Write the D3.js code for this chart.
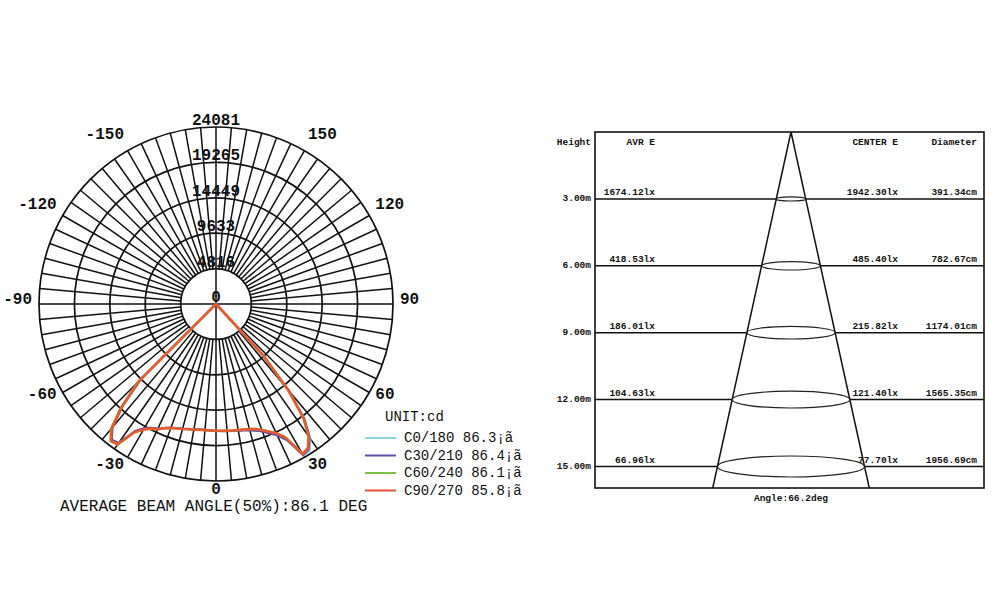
<!DOCTYPE html>
<html>
<head>
<meta charset="utf-8">
<script src="https://cdn.jsdelivr.net/npm/d3@7"></script>
<style>
  body { margin: 0; background: #fff; }
  svg { display: block; }
  text { font-family: "Liberation Mono", "DejaVu Sans Mono", monospace; fill: #111; }
</style>
</head>
<body>
<div id="chart"></div>
<script>
// gamma angles (deg) and intensity per C-plane (cd)
const gammaAngles = [-47.5, -45, -42.5, -40, -37.5, -35, -32.5, -30, -27.5, -25, -22.5, -20, -17.5, -15, -12.5, -10, -7.5, -5, -2.5,
  0, 2.5, 5, 7.5, 10, 12.5, 15, 17.5, 20, 22.5, 25, 27.5, 30, 32.5, 35, 37.5, 40, 42.5, 45];
const c0Values = [0, 14600, 18900, 22000, 23400, 23200, 20600, 19600, 19100, 18750, 18300, 17950, 17750, 17600, 17450, 17350, 17250, 17220, 17230,
  17250, 17280, 17320, 17380, 17450, 17560, 17700, 17950, 18350, 18900, 19550, 20700, 23800, 23650, 22400, 19900, 15600, 9800, 0];
const c30Values = [0, 14500, 18800, 21900, 23300, 23100, 20500, 19500, 19000, 18700, 18250, 17900, 17700, 17550, 17400, 17300, 17200, 17200, 17220,
  17250, 17300, 17360, 17420, 17500, 17620, 17800, 18080, 18450, 19050, 19700, 20850, 23700, 23450, 22200, 19700, 15400, 9600, 0];
const c60Values = [0, 15200, 19300, 22300, 23550, 23350, 20750, 19750, 19150, 18800, 18300, 17950, 17750, 17600, 17450, 17350, 17260, 17230, 17230,
  17240, 17260, 17290, 17330, 17380, 17480, 17600, 17820, 18200, 18750, 19350, 20450, 23500, 23200, 21900, 19500, 15200, 9400, 0];
const c90Values = [0, 14700, 19000, 22100, 23500, 23300, 20700, 19700, 19100, 18800, 18300, 17950, 17750, 17600, 17450, 17350, 17250, 17220, 17220,
  17240, 17260, 17300, 17350, 17400, 17500, 17620, 17850, 18250, 18800, 19400, 20500, 23600, 23300, 22000, 19600, 15300, 9500, 0];
const seriesNames = ["C0/180", "C30/210", "C60/240", "C90/270"];
const seriesBeams = ["86.3", "86.4", "86.1", "85.8"];
const seriesColors = ["#8fd0e2", "#5b4fa6", "#7cc243", "#e4523a"];
const curveColor = "#e85a2e";
const ringTicks = [0, 4816, 9633, 14449, 19265, 24081];
const angleLabels = [0, 30, 60, 90, 120, 150, -150, -120, -90, -60, -30];
const averageBeam = "86.1";

// illuminance table
const heights = [3, 6, 9, 12, 15];
const avrE = [1674.12, 418.53, 186.01, 104.63, 66.96];
const centerE = [1942.30, 485.40, 215.82, 121.40, 77.70];
const diameters = [391.34, 782.67, 1174.01, 1565.35, 1956.69];
const coneAngle = 66.2;

var svg = d3.select("#chart")
    .append("svg")
    .attr("width", 1000)
    .attr("height", 616);

svg.append("rect").attr("width", 1000).attr("height", 616).attr("fill", "#fff");

drawPolar();
drawCone();

function drawPolar() {
  var cx = 216, cy = 304, R = 177;
  var r = d3.scaleLinear().domain([0, 24081]).range([0, R]);
  var g = svg.append("g").attr("transform", "translate(" + cx + "," + cy + ")");

  // spokes every 5 degrees, the main axes go through the centre
  for (var a = 0; a < 360; a += 5) {
    var rad = a * Math.PI / 180;
    var r0 = (a % 90 === 0) ? 0 : r(ringTicks[1]);
    g.append("line")
        .attr("x1", r0 * Math.sin(rad)).attr("y1", r0 * Math.cos(rad))
        .attr("x2", R * Math.sin(rad)).attr("y2", R * Math.cos(rad))
        .attr("stroke", "#111")
        .attr("stroke-width", 1.5);
  }

  // rings
  g.selectAll("circle.ring")
      .data(ringTicks.slice(1))
      .enter()
      .append("circle")
      .attr("r", d => r(d))
      .attr("fill", "none")
      .attr("stroke", "#111")
      .attr("stroke-width", 1.7);

  // ring labels
  g.selectAll("text.ring")
      .data(ringTicks)
      .enter()
      .append("text")
      .attr("x", 0)
      .attr("y", d => -r(d) - 2)
      .attr("text-anchor", "middle")
      .attr("font-size", 16)
      .attr("font-weight", "bold")
      .text(d => d);

  // angle labels
  g.selectAll("text.angle")
      .data(angleLabels)
      .enter()
      .append("text")
      .attr("x", d => 184 * Math.sin(d * Math.PI / 180))
      .attr("y", d => 190 * Math.cos(d * Math.PI / 180) - 4)
      .attr("dominant-baseline", "central")
      .attr("text-anchor", function(d) {
        var s = Math.sin(d * Math.PI / 180);
        return Math.abs(s) < 0.01 ? "middle" : (s > 0 ? "start" : "end");
      })
      .attr("font-size", 16)
      .attr("font-weight", "bold")
      .text(d => d);

  // intensity curves, C90 on top
  var line = d3.lineRadial()
      .angle(d => Math.PI - d[0] * Math.PI / 180)
      .radius(d => r(d[1]));
  var allValues = [c0Values, c30Values, c60Values, c90Values];
  allValues.forEach(function(values, i) {
    g.append("path")
        .datum(gammaAngles.map((ang, k) => [ang, values[k]]))
        .attr("d", line)
        .attr("fill", "none")
        .attr("stroke", i === 3 ? curveColor : seriesColors[i])
        .attr("stroke-width", i === 3 ? 2.6 : 2.2)
        .attr("stroke-linejoin", "round");
  });

  // legend
  svg.append("text")
      .attr("x", 385).attr("y", 417)
      .attr("dominant-baseline", "central")
      .attr("font-size", 14)
      .text("UNIT:cd");
  seriesNames.forEach(function(name, i) {
    var ly = 438 + i * 17.5;
    svg.append("line")
        .attr("x1", 365).attr("x2", 396)
        .attr("y1", ly).attr("y2", ly)
        .attr("stroke", seriesColors[i])
        .attr("stroke-width", 2);
    svg.append("text")
        .attr("x", 404).attr("y", ly)
        .attr("dominant-baseline", "central")
        .attr("font-size", 14)
        .text(name + " " + seriesBeams[i] + "¡ã");
  });

  svg.append("text")
      .attr("x", 60).attr("y", 511)
      .attr("font-size", 16)
      .text("AVERAGE BEAM ANGLE(50%):" + averageBeam + " DEG");
}

function drawCone() {
  var left = 595, right = 984, top = 132, bottom = 488, apexX = 791;
  var y = d3.scaleLinear().domain([0, 15]).range([top, 466.5]);
  // spot radius in cm to px (horizontal is compressed)
  var x = d3.scaleLinear().domain([0, 1000]).range([0, 75.2]);
  var half = Math.tan(coneAngle / 2 * Math.PI / 180);

  var g = svg.append("g");

  g.append("rect")
      .attr("x", left).attr("y", top)
      .attr("width", right - left).attr("height", bottom - top)
      .attr("fill", "none")
      .attr("stroke", "#111")
      .attr("stroke-width", 1.6);

  // cone sides
  var bottomR = x(half * y.invert(bottom) * 100);
  [-1, 1].forEach(function(s) {
    g.append("line")
        .attr("x1", apexX).attr("y1", top)
        .attr("x2", apexX + s * bottomR).attr("y2", bottom)
        .attr("stroke", "#111")
        .attr("stroke-width", 1.5);
  });

  heights.forEach(function(h, i) {
    var ly = y(h);
    var rx = x(diameters[i] / 2);
    g.append("line")
        .attr("x1", left).attr("x2", apexX - rx)
        .attr("y1", ly).attr("y2", ly)
        .attr("stroke", "#111").attr("stroke-width", 1.5);
    g.append("line")
        .attr("x1", apexX + rx).attr("x2", right)
        .attr("y1", ly).attr("y2", ly)
        .attr("stroke", "#111").attr("stroke-width", 1.5);
    g.append("ellipse")
        .attr("cx", apexX).attr("cy", ly)
        .attr("rx", rx).attr("ry", rx * 0.143)
        .attr("fill", "none")
        .attr("stroke", "#222")
        .attr("stroke-width", 1.2);

    tableText(591, ly, h.toFixed(2) + "m", true);
    tableText(655, ly - 4, avrE[i].toFixed(2) + "lx");
    tableText(898, ly - 4, centerE[i].toFixed(2) + "lx");
    tableText(977, ly - 4, diameters[i].toFixed(2) + "cm");
  });

  // header
  tableText(591, 145, "Height");
  tableText(655, 145, "AVR E");
  tableText(898, 145, "CENTER E");
  tableText(977, 145, "Diameter");

  g.append("text")
      .attr("x", apexX).attr("y", 501)
      .attr("text-anchor", "middle")
      .attr("font-size", 9.5)
      .attr("font-weight", "bold")
      .text("Angle:" + coneAngle + "deg");
}

function tableText(tx, ty, str, centred) {
  var t = svg.append("text")
      .attr("x", tx).attr("y", ty)
      .attr("text-anchor", "end")
      .attr("font-size", 9.5)
      .attr("font-weight", "bold")
      .text(str);
  if (centred) t.attr("dominant-baseline", "central");
}
</script>
</body>
</html>
